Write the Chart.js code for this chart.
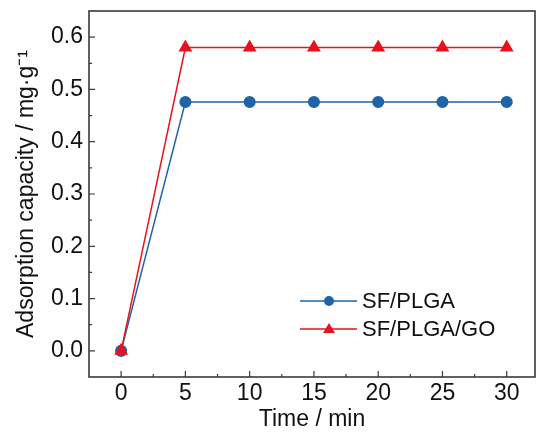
<!DOCTYPE html>
<html>
<head>
<meta charset="utf-8">
<script src="https://cdn.jsdelivr.net/npm/chart.js@4.4.0/dist/chart.umd.min.js"></script>
<style>
  html, body { margin: 0; padding: 0; background: #fff; }
  #wrap { width: 536px; height: 433px; }
</style>
</head>
<body>
<div id="wrap"><canvas id="myChart" width="536" height="433"></canvas></div>
<script>
// data
const times = [0, 5, 10, 15, 20, 25, 30];
const sfPlga = [0, 0.476, 0.476, 0.476, 0.476, 0.476, 0.476];
const sfPlgaGo = [0, 0.58, 0.58, 0.58, 0.58, 0.58, 0.58];
const xTicks = [0, 5, 10, 15, 20, 25, 30];
const yTicks = [0.0, 0.1, 0.2, 0.3, 0.4, 0.5, 0.6];

const FONT = "'Liberation Sans', Arial, sans-serif";
const AXIS = "#3a3a3a";
const BLUE = "#1f64a6";
const RED = "#e8121c";
const PLOT_RIGHT = 535;

const toPoints = (vals) => times.map((t, i) => ({ x: t, y: vals[i] }));

// plot area runs almost to the right edge, like the original
const stretchPlugin = {
  id: "stretch",
  afterLayout(chart) {
    const x = chart.scales.x;
    chart.chartArea.right = PLOT_RIGHT;
    chart.chartArea.width = PLOT_RIGHT - chart.chartArea.left;
    x.right = PLOT_RIGHT;
    x.width = x.right - x.left;
    x.configure();
  },
};

// inward major/minor ticks, frame, legend inside the plot
const framePlugin = {
  id: "frame",
  afterDraw(chart) {
    const { ctx, chartArea: a, scales } = chart;
    const xs = scales.x, ys = scales.y;
    ctx.save();
    ctx.strokeStyle = AXIS;
    ctx.lineWidth = 1.6;
    ctx.strokeRect(a.left, a.top, a.right - a.left, a.bottom - a.top);

    ctx.lineWidth = 1.2;
    ctx.beginPath();
    for (let v = -2.5; v <= 32; v += 2.5) {
      const px = xs.getPixelForValue(v);
      if (px <= a.left + 1) continue;
      const len = xTicks.includes(v) ? 6 : 3;
      ctx.moveTo(px, a.bottom);
      ctx.lineTo(px, a.bottom - len);
    }
    for (let k = 0; k <= 13; k++) {
      const v = -0.05 + k * 0.05;
      const py = ys.getPixelForValue(v);
      if (py >= a.bottom - 1) continue;
      const major = k % 2 === 1;
      ctx.moveTo(a.left, py);
      ctx.lineTo(a.left + (major ? 6 : 3), py);
    }
    ctx.stroke();

    // legend
    const items = chart.data.datasets;
    ctx.font = "22px " + FONT;
    ctx.textBaseline = "middle";
    items.forEach((ds, i) => {
      const y = 301 + i * 28;
      ctx.strokeStyle = ds.borderColor;
      ctx.lineWidth = 1.5;
      ctx.beginPath();
      ctx.moveTo(300, y);
      ctx.lineTo(357, y);
      ctx.stroke();
      ctx.fillStyle = ds.backgroundColor;
      ctx.beginPath();
      if (ds.pointStyle === "triangle") {
        ctx.moveTo(329, y - 6);
        ctx.lineTo(335, y + 4);
        ctx.lineTo(323, y + 4);
        ctx.closePath();
      } else {
        ctx.arc(329, y, 5, 0, Math.PI * 2);
      }
      ctx.fill();
      ctx.fillStyle = "#111";
      ctx.fillText(ds.label, 362, y + 1);
    });
    ctx.restore();
  },
};

new Chart(document.getElementById("myChart"), {
  type: "line",
  data: {
    datasets: [
      {
        label: "SF/PLGA",
        data: toPoints(sfPlga),
        borderColor: BLUE,
        backgroundColor: BLUE,
        borderWidth: 1.5,
        pointStyle: "circle",
        pointRadius: 5.3,
        order: 2,
      },
      {
        label: "SF/PLGA/GO",
        data: toPoints(sfPlgaGo),
        borderColor: RED,
        backgroundColor: RED,
        borderWidth: 1.5,
        pointStyle: "triangle",
        pointRadius: 6.5,
        order: 1,
      },
    ],
  },
  options: {
    responsive: false,
    animation: false,
    layout: { padding: { top: 11, right: 1, left: 0, bottom: 0 } },
    plugins: { legend: { display: false }, tooltip: { enabled: false } },
    scales: {
      x: {
        type: "linear",
        min: -2.5,
        max: 32.2,
        afterBuildTicks: (s) => { s.ticks = xTicks.map((v) => ({ value: v })); },
        afterFit: (s) => { s.height = 56; },
        grid: { display: false, drawTicks: false },
        border: { display: false },
        ticks: { color: "#111", font: { family: FONT, size: 23 }, padding: 3, maxRotation: 0 },
        title: {
          display: true,
          text: "Time / min",
          color: "#111",
          font: { family: FONT, size: 23 },
          padding: { top: 0, bottom: 0 },
        },
      },
      y: {
        type: "linear",
        min: -0.05,
        max: 0.65,
        afterBuildTicks: (s) => { s.ticks = yTicks.map((v) => ({ value: v })); },
        afterFit: (s) => { s.width = 89; s.paddingTop = 0; s.paddingBottom = 0; },
        grid: { display: false, drawTicks: false },
        border: { display: false },
        ticks: {
          color: "#111",
          font: { family: FONT, size: 23 },
          padding: 6,
          callback: (v) => Number(v).toFixed(1),
        },
        title: {
          display: true,
          text: "Adsorption capacity / mg·g⁻¹",
          color: "#111",
          font: { family: FONT, size: 23 },
          padding: { top: 13, bottom: 0 },
        },
      },
    },
  },
  plugins: [stretchPlugin, framePlugin],
});
</script>
</body>
</html>
